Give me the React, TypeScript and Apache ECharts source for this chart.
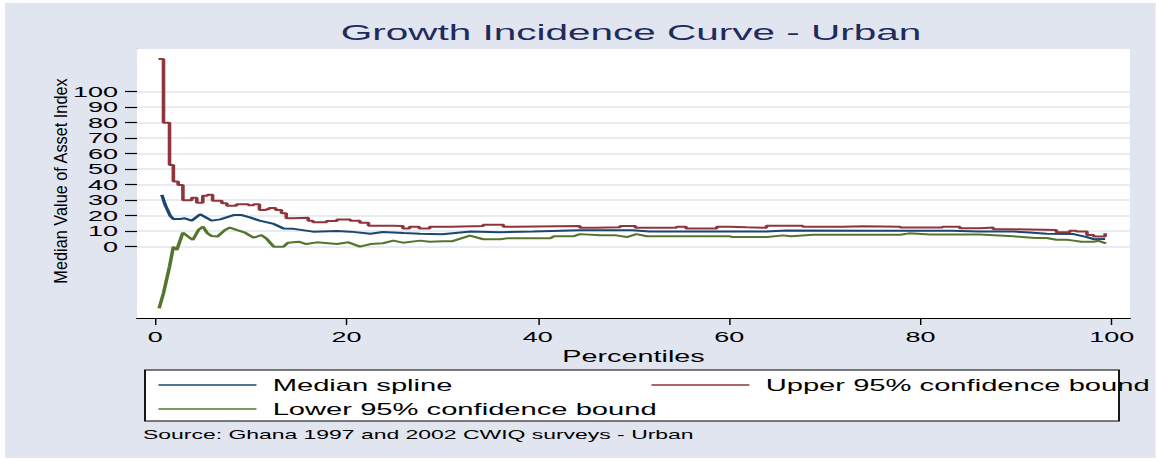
import React, { useEffect, useRef } from "react";
import * as echarts from "echarts";

// The reference is a Stata graph stretched horizontally; reproduce by a uniform horizontal stretch.
const S = 1.8;
const W = 1156 / S;
const H = 459;
const sx = (v: number) => v / S;

const TITLE = "Growth Incidence Curve - Urban";
const Y_TITLE = "Median Value of Asset Index";
const X_TITLE = "Percentiles";
const SOURCE = "Source: Ghana 1997 and 2002 CWIQ surveys - Urban";
const X_TICKS = [0, 20, 40, 60, 80, 100];
const Y_TICKS = [0, 10, 20, 30, 40, 50, 60, 70, 80, 90, 100];

const SERIES_NAMES = ["Median spline", "Upper 95% confidence bound", "Lower 95% confidence bound"];

const medianSpline: [number, number][] = [
  [0.7, 33.4], [1.04, 27], [1.57, 20], [1.9, 17.9], [2.6, 17.9], [3.1, 18.3], [3.83, 16.8],
  [4.7, 20.9], [5.9, 16.8], [6.8, 17.6], [8.2, 20.4], [9.05, 20.4], [9.9, 18.9], [10.9, 16.8],
  [12.4, 14.7], [13.4, 11.8], [14.5, 11.5], [16.5, 9.7], [19, 10.1], [20.4, 9.7], [22.5, 8.4],
  [23.8, 9.5], [26, 8.8], [27.7, 8.3], [30, 8.0], [33, 9.8], [36, 9.3], [39.5, 9.8],
  [44.4, 10.6], [49.9, 10.6], [51.7, 9.8], [63.9, 9.8], [66, 10.4], [75, 10.3], [83.3, 10.3],
  [86, 9.8], [89.7, 9.8], [91.4, 9.1], [93.2, 8.3], [96, 8.1], [97.4, 6.2], [98.1, 4.8], [99.3, 5.0],
];

const upperBound: [number, number][] = [
  [0.35, 121], [0.87, 80], [1.5, 52.7], [1.9, 42], [2.4, 39.8], [2.9, 30], [3.83, 31.6],
  [4.35, 28.4], [4.98, 32.9], [5.47, 33.5], [6.0, 29.6], [6.97, 28], [7.5, 26.4], [8.5, 27.4],
  [9.75, 26.8], [10.3, 27.4], [10.9, 23.7], [11.6, 24.2], [11.9, 25], [12.6, 23.7], [13.2, 21.5],
  [13.7, 18.3], [14.4, 18.7], [16, 16.8], [16.5, 15.8], [17.9, 16.6], [19, 17.6], [20.4, 16.8],
  [21.4, 15.5], [22.3, 13.5], [24.9, 13.3], [25.9, 11.8], [26.6, 12.9], [27.6, 11.8], [28.7, 12.9],
  [31, 13.3], [34.3, 14.2], [36.4, 12.9], [37.5, 13.3], [44.4, 12.2], [46, 12.6], [48.6, 13.3],
  [50.2, 12.2], [54.5, 12.9], [55.5, 11.8], [58.7, 12.9], [60, 12.5], [61.8, 12.2], [63.9, 13.5],
  [67.7, 12.9], [72, 13.2], [74, 12.9], [77.9, 12.3], [82.3, 12.9], [84.1, 11.9], [86.2, 12.3],
  [87.6, 11.2], [89.7, 10.8], [94.2, 9.3], [95.6, 10.3], [96.3, 9.8], [97.4, 7.5], [98.1, 6.5],
  [99.3, 8.6],
];

const lowerBound: [number, number][] = [
  [0.41, -39.8], [0.87, -30], [1.5, -12.9], [1.9, 0], [2.26, -2.1], [2.89, 9.0], [3.93, 4.3],
  [4.53, 10.8], [5.0, 12.9], [5.47, 8.6], [5.9, 6.9], [6.5, 6.5], [7.3, 10.8], [7.8, 12.3],
  [8.5, 10.8], [9.4, 9], [10.3, 5.8], [11.1, 7.5], [11.6, 5.4], [12.4, 0], [13.4, 0], [13.9, 2.6],
  [15.0, 3.2], [15.8, 1.7], [16.9, 2.8], [19, 1.7], [20.2, 2.8], [21.4, 0], [22.5, 1.7],
  [23.8, 2.2], [24.9, 3.9], [25.9, 2.6], [27.7, 3.9], [28.7, 3.2], [30.1, 3.5], [31.0, 3.5],
  [32.9, 7.1], [34.3, 4.8], [36.1, 4.8], [36.9, 5.5], [41.3, 5.5], [41.7, 6.7], [43.7, 6.7],
  [44.4, 8.1], [46.5, 7.3], [48.2, 7.3], [49.3, 6.2], [50.3, 8.1], [51.4, 6.7], [60, 6.7],
  [60.4, 6.2], [64, 6.2], [65.6, 7.3], [66.5, 6.7], [68.8, 7.7], [77.9, 7.7], [78.8, 8.6],
  [81, 7.8], [86.2, 7.8], [89.7, 6.7], [92, 5.6], [93.2, 5.6], [94.2, 4.5], [95.3, 4.5],
  [96, 3.9], [96.8, 3.2], [98.1, 3.2], [98.6, 3.8], [99.4, 2.2],
];

const FONT = "Liberation Sans, Arial, sans-serif";

const legendCommon = {
  orient: "vertical",
  top: 377,
  itemWidth: sx(98),
  itemHeight: 14,
  itemGap: 8,
  padding: 0,
  selectedMode: false,
  itemStyle: { opacity: 0, borderWidth: 0 },
  lineStyle: { width: 1.6 },
  textStyle: { fontSize: 16.2, fontFamily: FONT, color: "#000", padding: [0, 0, 0, 4] },
};

export default function App() {
  const ref = useRef<HTMLDivElement>(null);

  useEffect(() => {
    if (!ref.current) return;
    const chart = echarts.init(ref.current, null, { renderer: "svg", width: W, height: H });
    chart.setOption({
      animation: false,
      backgroundColor: "#ffffff",
      textStyle: { fontFamily: FONT },
      grid: {
        left: sx(137),
        right: W - sx(1130),
        top: 49,
        bottom: H - 318,
        show: true,
        backgroundColor: "#ffffff",
        borderWidth: 0,
        z: 1,
      },
      graphic: [
        {
          type: "rect",
          z: -10,
          silent: true,
          shape: { x: sx(5), y: 3, width: W - sx(5), height: 455 },
          style: { fill: "#E1E5EF" },
        },
        {
          type: "text",
          x: sx(631),
          y: 32.5,
          style: {
            text: TITLE,
            fontSize: 22.5,
            fontFamily: FONT,
            fill: "#1E2B5C",
            textAlign: "center",
            textVerticalAlign: "middle",
          },
        },
        {
          type: "text",
          x: sx(61),
          y: 181,
          rotation: Math.PI / 2,
          scaleY: 0.64,
          style: {
            text: Y_TITLE,
            fontSize: 16.3,
            fontFamily: FONT,
            fill: "#000000",
            textAlign: "center",
            textVerticalAlign: "middle",
          },
        },
        {
          type: "rect",
          z: 0,
          shape: { x: sx(145), y: 370, width: sx(1119) - sx(145), height: 51 },
          style: { fill: "#ffffff", stroke: "#000000", lineWidth: 1 },
        },
        {
          type: "text",
          x: sx(143),
          y: 434.5,
          style: {
            text: SOURCE,
            fontSize: 12.75,
            fontFamily: FONT,
            fill: "#000000",
            textAlign: "left",
            textVerticalAlign: "middle",
          },
        },
      ],
      legend: [
        { ...legendCommon, data: [SERIES_NAMES[0], SERIES_NAMES[2]], left: sx(157) },
        { ...legendCommon, data: [SERIES_NAMES[1]], left: sx(650) },
      ],
      xAxis: {
        type: "value",
        min: -1.9,
        max: 101.9,
        name: X_TITLE,
        nameLocation: "middle",
        nameGap: 26,
        nameTextStyle: { fontSize: 16, fontFamily: FONT, color: "#000" },
        axisLine: { show: true, onZero: false, lineStyle: { color: "#000", width: 1.2 } },
        axisTick: { show: true, customValues: X_TICKS, length: 7, lineStyle: { color: "#000", width: 0.8 } },
        axisLabel: { customValues: X_TICKS, fontSize: 15, fontFamily: FONT, color: "#000", margin: 11 },
        splitLine: { show: false },
      },
      yAxis: {
        type: "value",
        min: -46,
        max: 127.5,
        axisLine: { show: true, onZero: false, lineStyle: { color: "#000", width: 0.7 } },
        axisTick: { show: true, customValues: Y_TICKS, length: sx(12), lineStyle: { color: "#000", width: 1.2 } },
        axisLabel: { customValues: Y_TICKS, fontSize: 15, fontFamily: FONT, color: "#000", margin: sx(19) },
        splitLine: { show: false },
      },
      series: [
        {
          name: SERIES_NAMES[0],
          type: "line",
          data: medianSpline,
          symbol: "none",
          showSymbol: false,
          z: 3,
          lineStyle: { color: "#1A476F", width: 2 },
          itemStyle: { color: "#1A476F" },
          markLine: {
            silent: true,
            symbol: "none",
            z: 2,
            label: { show: false },
            lineStyle: { color: "#DFE4EE", width: 1.6, type: "solid" },
            data: Y_TICKS.map((v) => ({ yAxis: v })),
          },
        },
        {
          name: SERIES_NAMES[1],
          type: "line",
          data: upperBound,
          step: "end",
          symbol: "none",
          showSymbol: false,
          z: 3,
          lineStyle: { color: "#90353B", width: 2 },
          itemStyle: { color: "#90353B" },
        },
        {
          name: SERIES_NAMES[2],
          type: "line",
          data: lowerBound,
          symbol: "none",
          showSymbol: false,
          z: 3,
          lineStyle: { color: "#55752F", width: 2 },
          itemStyle: { color: "#55752F" },
        },
      ],
    });
    return () => chart.dispose();
  }, []);

  return (
    <div style={{ position: "absolute", left: 0, top: 0, width: 1156, height: H, background: "#fff", overflow: "hidden" }}>
      <div
        ref={ref}
        style={{
          width: W,
          height: H,
          transform: `scaleX(${S})`,
          transformOrigin: "0 0",
        }}
      />
    </div>
  );
}
